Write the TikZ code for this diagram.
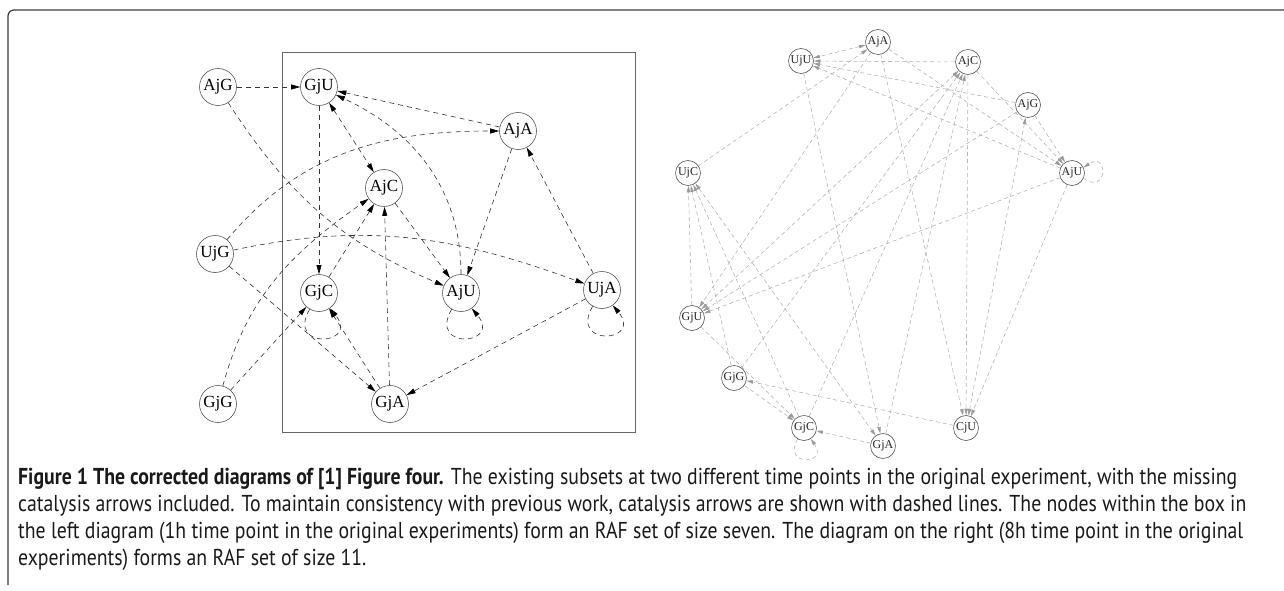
\documentclass[tikz,border=0pt]{standalone}
\usepackage{fontspec}
\usetikzlibrary{arrows.meta}
\newfontfamily\nodeserif{Liberation Serif}
\newfontfamily\capfont[FakeStretch=0.86]{PT Sans}
\definecolor{frameg}{HTML}{3A3A3A}
\definecolor{ledgec}{HTML}{333333}
\definecolor{redgec}{HTML}{B4B4B4}
\definecolor{rtipc}{HTML}{9A9A9A}
\definecolor{nodec}{HTML}{555555}
\tikzset{
  lnode/.style={circle, draw=nodec, line width=0.6pt, minimum size=37pt, inner sep=0pt,
    font=\nodeserif\fontsize{17}{17}\selectfont},
  rnode/.style={circle, draw=nodec, line width=0.6pt, minimum size=25pt, inner sep=0pt,
    font=\nodeserif\fontsize{12}{12}\selectfont, text=black!85},
  ledge/.style={draw=ledgec, dash pattern=on 5pt off 4pt, line width=0.6pt,
    -{Triangle[length=9pt,width=5pt,color=black]}},
  lboth/.style={draw=ledgec, dash pattern=on 5pt off 4pt, line width=0.6pt,
    {Triangle[length=9pt,width=5pt,color=black]}-{Triangle[length=9pt,width=5pt,color=black]}},
  redge/.style={draw=redgec, dash pattern=on 4pt off 3pt, line width=0.6pt,
    -{Triangle[length=6.5pt,width=3.5pt,color=rtipc]}},
  rboth/.style={draw=redgec, dash pattern=on 4pt off 3pt, line width=0.6pt,
    {Triangle[length=6.5pt,width=3.5pt,color=rtipc]}-{Triangle[length=6.5pt,width=3.5pt,color=rtipc]}},
  boxline/.style={draw=black!60, line width=0.8pt},
  capline/.style={anchor=base west, inner sep=0pt, text=black!90,
    font=\capfont\fontsize{23}{27}\selectfont}
}
\begin{document}
\begin{tikzpicture}[x=1pt,y=1pt]
\useasboundingbox (0,0) rectangle (1284,-591);
\draw[frameg, line width=1.2pt, rounded corners=6pt] (8,-585) -- (8,-10) -- (1284,-10);

% ---------- left diagram ----------
\draw[boxline] (282,-52) rectangle (635,-432);
\node[lnode] (AjG) at (218,-87) {AjG};
\node[lnode] (GjU) at (319,-87) {GjU};
\node[lnode] (AjA) at (518,-131) {AjA};
\node[lnode] (AjC) at (384,-188) {AjC};
\node[lnode] (UjG) at (215,-254) {UjG};
\node[lnode] (GjC) at (319,-293) {GjC};
\node[lnode] (AjU) at (461,-293) {AjU};
\node[lnode] (UjA) at (602,-290) {UjA};
\node[lnode] (GjG) at (218,-404) {GjG};
\node[lnode] (GjA) at (390,-404) {GjA};

\draw[ledge] (AjG) -- (GjU);
\draw[ledge] (AjG) to[out=-57,in=157] (AjU);
\draw[ledge] (UjG) to[out=50,in=180] (AjA);
\draw[ledge] (UjG) to[out=12,in=160] (UjA);
\draw[ledge] (UjG) -- (GjA);
\draw[ledge] (GjG) to[out=75,in=-145] (AjC);
\draw[ledge] (GjG) -- (GjC);
\draw[ledge] (GjU) -- (GjC);
\draw[lboth] (GjU) -- (AjC);
\draw[ledge] (AjA) -- (GjU);
\draw[ledge] (AjU.north) to[out=90,in=-25] (GjU);
\draw[ledge] (AjC) -- (AjU);
\draw[ledge] (AjA) -- (AjU);
\draw[ledge] (UjA) -- (AjA);
\draw[ledge] (UjA) -- (GjA);
\draw[ledge] (GjA) -- (AjC);
\draw[ledge] (GjA) -- (GjC);
\draw[ledge] (GjC) -- (AjC);
\foreach \n in {GjC,AjU,UjA}
  \draw[ledge] (\n.-120) .. controls +(-120:48) and +(-50:48) .. (\n.-55);

% ---------- right diagram ----------
\node[rnode] (rAjA) at (878,-42) {AjA};
\node[rnode] (rUjU) at (801,-61) {UjU};
\node[rnode] (rAjC) at (968,-62) {AjC};
\node[rnode] (rAjG) at (1028,-105) {AjG};
\node[rnode] (rUjC) at (688,-173) {UjC};
\node[rnode] (rAjU) at (1072,-173) {AjU};
\node[rnode] (rGjU) at (692,-318) {GjU};
\node[rnode] (rGjG) at (734,-378) {GjG};
\node[rnode] (rGjC) at (804,-428) {GjC};
\node[rnode] (rGjA) at (883,-446) {GjA};
\node[rnode] (rCjU) at (966,-428) {CjU};

% A-catalysts -> tag U
\foreach \s/\t in {AjA/AjU, AjA/GjU, AjA/CjU,
                   AjC/UjU, AjC/AjU, AjC/CjU,
                   AjG/UjU, AjG/AjU, AjG/GjU,
                   AjU/UjU, AjU/GjU, AjU/CjU}
  \draw[redge] (r\s) -- (r\t);
\draw[redge] (rAjU.-25) .. controls +(-35:30) and +(35:30) .. (rAjU.25);
% G-catalysts -> tag C
\foreach \s/\t in {GjU/UjC, GjU/GjC,
                   GjG/AjC, GjG/UjC, GjG/GjC,
                   GjC/AjC, GjC/UjC,
                   GjA/AjC, GjA/GjC}
  \draw[redge] (r\s) -- (r\t);
\draw[redge] (rGjC.-120) .. controls +(-120:32) and +(-55:32) .. (rGjC.-58);
% U-catalysts -> tag A
\draw[redge] (rUjU) -- (rGjA);
\draw[redge] (rUjC) -- (rAjA);
% C-catalyst -> tag G
\draw[redge] (rCjU) -- (rGjG);
% mutual pairs
\draw[rboth] (rAjA) -- (rUjU);
\draw[rboth] (rAjC) -- (rGjU);
\draw[rboth] (rAjG) -- (rCjU);
\draw[rboth] (rUjC) -- (rGjA);

% ---------- caption ----------
\node[capline] (cap1) at (18,-484) {\textbf{Figure 1 The corrected diagrams of [1] Figure four.} The existing subsets at two different time points in the original experiment, with the missing};
\node[capline] (cap2) at (18,-511) {catalysis arrows included. To maintain consistency with previous work, catalysis arrows are shown with dashed lines. The nodes within the box in};
\node[capline] (cap3) at (18,-538) {the left diagram (1h time point in the original experiments) form an RAF set of size seven. The diagram on the right (8h time point in the original};
\node[capline] (cap4) at (18,-565) {experiments) forms an RAF set of size 11.};
\end{tikzpicture}
\end{document}
